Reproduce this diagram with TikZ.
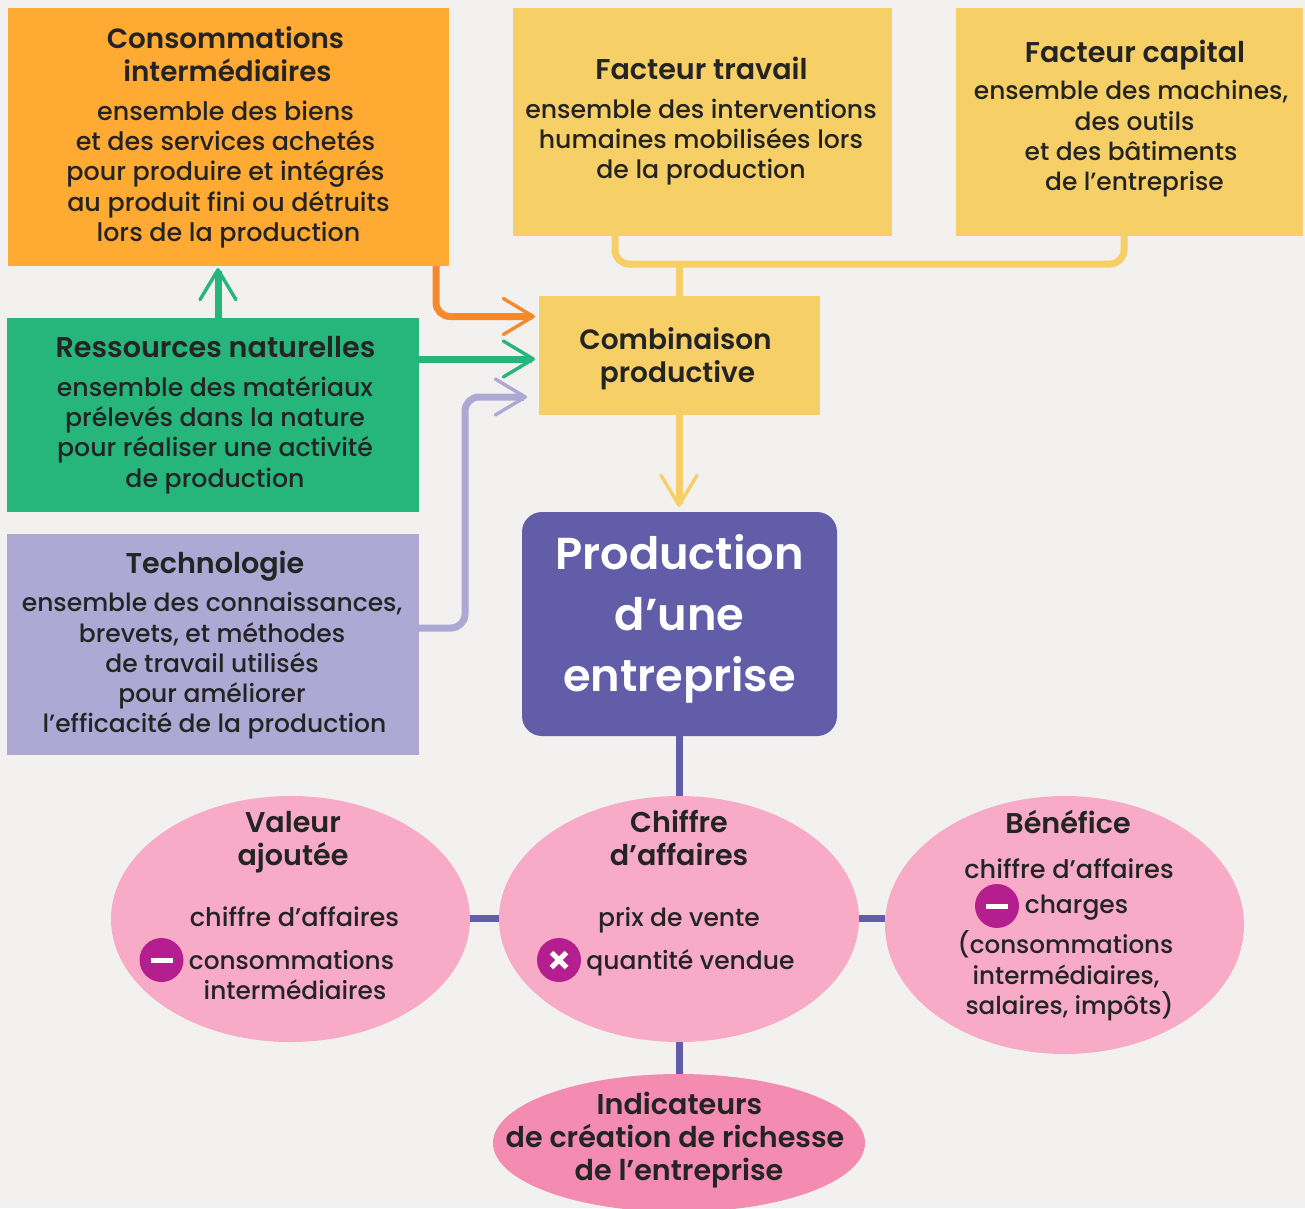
\documentclass[tikz,border=0pt]{standalone}
\usepackage{fontspec}
\setmainfont{Poppins}[UprightFont=* Medium,BoldFont=* SemiBold]
\usetikzlibrary{arrows.meta}
\definecolor{bgc}{HTML}{F2F1EF}
\definecolor{orangeb}{HTML}{FFAA33}
\definecolor{oranged}{HTML}{F7892D}
\definecolor{yellowb}{HTML}{F6CF66}
\definecolor{greenb}{HTML}{26B67C}
\definecolor{lavb}{HTML}{ADA8D4}
\definecolor{purpb}{HTML}{625DA9}
\definecolor{pinkb}{HTML}{F7ABC6}
\definecolor{pinkd}{HTML}{F48BB0}
\definecolor{magb}{HTML}{B41E8E}
\definecolor{inkc}{HTML}{242424}
\tikzset{
  x=1pt,y=-1pt,
  titlet/.style={inner sep=0pt,align=center,text=inkc,font=\fontsize{#1}{33}\selectfont\bfseries},
  titlet/.default=28.6,
  bodyt/.style={inner sep=0pt,align=center,text=inkc,font=\fontsize{#1}{30.3}\selectfont},
  bodyt/.default=25,
  conn/.style={line width=7pt},
  barb/.style={-{Straight Barb[length=30pt,width=36pt,line width=3.4pt,round]}},
  signc/.style={circle,fill=magb,minimum size=44pt,inner sep=0pt},
}
\newcommand{\rectbox}[6]{\path[fill=#6] (#2,#3) rectangle (#4,#5);\coordinate (#1) at ({(#2+#4)/2},{(#3+#5)/2});}
\begin{document}
\begin{tikzpicture}
\useasboundingbox[fill=bgc] (0,0) rectangle (1305,1208);
% boxes
\rectbox{conso}{8}{8}{449}{266}{orangeb}
\rectbox{travail}{513}{8}{892}{236}{yellowb}
\rectbox{capital}{956}{8}{1303}{236}{yellowb}
\rectbox{combi}{539}{296}{820}{415}{yellowb}
\rectbox{ress}{7}{318}{419}{512}{greenb}
\rectbox{techno}{7}{534}{419}{755}{lavb}
\path[fill=purpb,rounded corners=20pt] (522,512) rectangle (837,736);
\coordinate (prod) at (679.5,624);
% ellipses
\path[fill=pinkb] (290.5,919) ellipse [x radius=179.5,y radius=123];
\path[fill=pinkb] (679,919) ellipse [x radius=180,y radius=123];
\path[fill=pinkb] (1064.5,925) ellipse [x radius=179.5,y radius=129];
\path[fill=pinkd] (679,1143) ellipse [x radius=186,y radius=69];
% named connector ends
\coordinate (orS) at (436,266); \coordinate (orE) at (535,316.5);
\coordinate (grS) at (419,359); \coordinate (grE) at (535,359);
\coordinate (laS) at (419,628); \coordinate (laE) at (527,397);
\coordinate (upS) at (218,318); \coordinate (upE) at (218,268);
\coordinate (yeS) at (679,415); \coordinate (yeE) at (679,507);
\coordinate (trS) at (615,236); \coordinate (caS) at (1124,236);
\coordinate (stT) at (679,264); \coordinate (stB) at (679,296);
\coordinate (pvT) at (679,736); \coordinate (pvB) at (679,796);
\coordinate (vaE) at (470,918); \coordinate (chW) at (499,918);
\coordinate (chE) at (859,918); \coordinate (beW) at (885,918);
\coordinate (chS) at (679,1042); \coordinate (inN) at (679,1074);
% connectors
\draw[conn,oranged,rounded corners=14pt] (orS) |- (orE-|525,0) ;
\draw[oranged,barb,line width=7pt] (525,316.5) -- (orE);
\draw[conn,greenb,barb] (grS) -- (grE);
\draw[conn,lavb,rounded corners=14pt] (laS) -| (465,397) -- (517,397);
\draw[lavb,barb,line width=7pt] (517,397) -- (laE);
\draw[conn,greenb,barb] (upS) -- (upE);
\draw[conn,yellowb,barb] (yeS) -- (yeE);
\draw[conn,yellowb,rounded corners=14pt] (trS) |- (679,264) -| (caS);
\draw[conn,yellowb] (stT) -- (stB);
\draw[conn,purpb] (pvT) -- (pvB);
\draw[conn,purpb] (vaE) -- (chW);
\draw[conn,purpb] (chE) -- (beW);
\draw[conn,purpb] (chS) -- (inN);
% texts
\node[titlet=27.8] (t1) at (227.5,54.5) {\hspace*{-4pt}Consommations\\intermédiaires};
\node[bodyt=25.4] (b1) at (227,174.5) {\hspace*{-3pt}ensemble des biens\\\hspace*{-3pt}et des services achetés\\\hspace*{-3pt}pour produire et intégrés\\\hspace*{3pt}au produit fini ou détruits\\\hspace*{3pt}lors de la production};
\node[titlet] (t2) at (701.5,68.5) {Facteur travail};
\node[bodyt=25.2] (b2) at (701,142) {ensemble des interventions\\humaines mobilisées lors\\de la production};
\node[titlet] (t3) at (1135,55) {Facteur capital};
\node[bodyt=24.9] (b3) at (1133,139) {\hspace*{-4pt}ensemble des machines,\\\hspace*{3pt}des outils\\\hspace*{-4pt}et des bâtiments\\\hspace*{3pt}de l’entreprise};
\node[titlet=28] (t4) at (677.5,359) {\hspace*{-4pt}Combinaison\\productive};
\node[titlet] (t5) at (215.5,347) {Ressources naturelles};
\node[bodyt=25.2] (b5) at (215,435) {ensemble des matériaux\\prélevés dans la nature\\pour réaliser une activité\\de production};
\node[titlet] (t6) at (215,566) {Technologie};
\node[bodyt=25] (b6) at (212,666) {ensemble des connaissances,\\brevets, et méthodes\\de travail utilisés\\pour améliorer\\\hspace*{5pt}l’efficacité de la production};
\node[inner sep=0pt,align=center,text=white,font=\fontsize{44.7}{61}\selectfont\bfseries] (t7) at (679.5,618.5) {Production\\d’une\\entreprise};
\node[titlet] (t8) at (293,842) {Valeur\\ajoutée};
\node[bodyt=25.6] (b8a) at (294.5,917) {chiffre d’affaires};
\node[bodyt=24.8] (b8b) at (293,975) {\hspace*{-3pt}consommations\\\hspace*{4pt}intermédiaires};
\node[titlet] (t9) at (679,837.5) {Chiffre\\d’affaires};
\node[bodyt=25] (b9a) at (679,920.5) {prix de vente};
\node[bodyt=25] (b9b) at (690.5,963) {quantité vendue};
\node[titlet] (t10) at (1068,821.5) {Bénéfice};
\node[bodyt=25.6] (b10a) at (1069,869) {chiffre d’affaires};
\node[bodyt=25] (b10b) at (1076.5,908) {charges};
\node[bodyt=24.6] (b10c) at (1067,976) {\hspace*{-3pt}(consommations\\\hspace*{-2pt}intermédiaires,\\\hspace*{5pt}salaires, impôts)};
\node[titlet] (t11) at (677.5,1140) {\hspace*{4pt}Indicateurs\\\hspace*{-5pt}de création de richesse\\\hspace*{3pt}de l’entreprise};
% signs
\node[signc] (s1) at (161.5,960) {};
\draw[white,line width=5pt] ([xshift=-11pt]s1.center) -- ([xshift=11pt]s1.center);
\node[signc] (s2) at (559,960) {};
\draw[white,line width=5pt] ([shift={(-7.5pt,-7.5pt)}]s2.center) -- ([shift={(7.5pt,7.5pt)}]s2.center);
\draw[white,line width=5pt] ([shift={(-7.5pt,7.5pt)}]s2.center) -- ([shift={(7.5pt,-7.5pt)}]s2.center);
\node[signc] (s3) at (997,906) {};
\draw[white,line width=5pt] ([xshift=-11pt]s3.center) -- ([xshift=11pt]s3.center);
\end{tikzpicture}
\end{document}
